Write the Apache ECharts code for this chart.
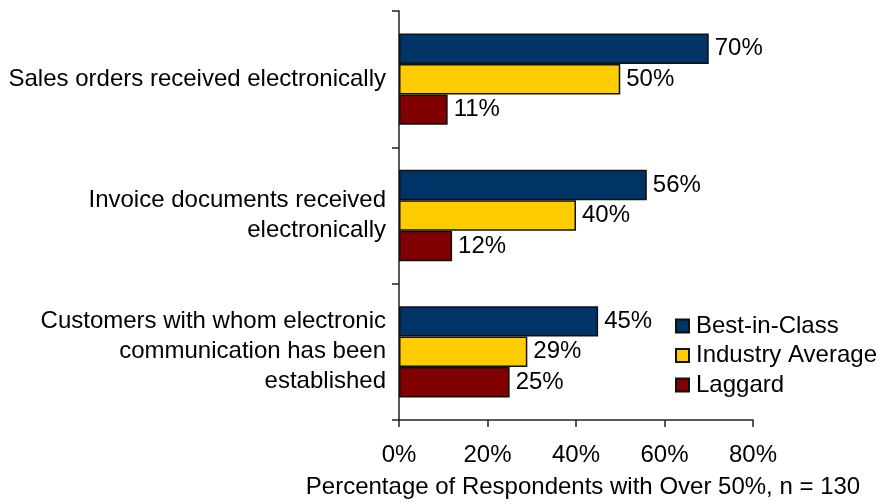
<!DOCTYPE html>
<html>
<head>
<meta charset="utf-8">
<script src="https://cdn.jsdelivr.net/npm/echarts@6/dist/echarts.min.js"></script>
<style>
html,body{margin:0;padding:0;background:#fff;}
#chart{width:878px;height:504px;}
</style>
</head>
<body>
<div id="chart"></div>
<script>
var categories = [
  "Sales orders received electronically",
  "Invoice documents received\nelectronically",
  "Customers with whom electronic\ncommunication has been\nestablished"
];
var seriesNames = ["Best-in-Class", "Industry Average", "Laggard"];
var bestInClass = [70, 56, 45];
var industryAverage = [50, 40, 29];
var laggard = [11, 12, 25];
var xTicks = [0, 20, 40, 60, 80];
var axisTitle = "Percentage of Respondents with Over 50%, n = 130";

var colors = ["#003366", "#FFCC00", "#800000"];
var font = "'Liberation Sans', Arial, sans-serif";
var dataSets = [bestInClass, industryAverage, laggard];

var chart = echarts.init(document.getElementById('chart'));
chart.setOption({
  animation: false,
  textStyle: {fontFamily: font},
  grid: {left: 399, top: 11, right: 125, bottom: 82.5, containLabel: false},
  legend: {
    orient: 'vertical',
    left: 675,
    top: 314,
    padding: 0,
    itemWidth: 13,
    itemHeight: 13,
    itemGap: 5.5,
    icon: 'rect',
    textStyle: {fontFamily: font, fontSize: 24, color: '#000', padding: [0, 0, 0, 2]},
    data: seriesNames
  },
  xAxis: {
    type: 'value',
    min: xTicks[0],
    max: xTicks[xTicks.length - 1],
    interval: 20,
    name: axisTitle,
    nameLocation: 'middle',
    nameGap: 55,
    nameTextStyle: {fontFamily: font, fontSize: 24, color: '#000', padding: [0, 0, 0, 14]},
    axisLine: {show: true, lineStyle: {color: '#222', width: 1.5}},
    axisTick: {show: true, length: 7, inside: false, lineStyle: {color: '#222', width: 1.5}},
    axisLabel: {fontFamily: font, fontSize: 24, color: '#000', margin: 23, formatter: '{value}%'},
    splitLine: {show: false}
  },
  yAxis: {
    type: 'category',
    inverse: true,
    data: categories,
    axisLine: {show: true, lineStyle: {color: '#222', width: 1.5}},
    axisTick: {show: true, length: 7, alignWithLabel: false, lineStyle: {color: '#222', width: 1.5}},
    axisLabel: {fontFamily: font, fontSize: 24, color: '#000', margin: 13, lineHeight: 30, align: 'right', padding: [4, 0, 0, 0]},
    splitLine: {show: false}
  },
  series: seriesNames.map(function (name, i) {
    return {
      name: name,
      type: 'bar',
      data: dataSets[i],
      barGap: '0%',
      barCategoryGap: '33%',
      itemStyle: {color: colors[i], borderColor: '#111', borderWidth: 1.5},
      label: {
        show: true,
        position: 'right',
        distance: 6,
        formatter: '{c}%',
        fontFamily: font,
        fontSize: 24,
        color: '#000'
      }
    };
  })
});
</script>
</body>
</html>
